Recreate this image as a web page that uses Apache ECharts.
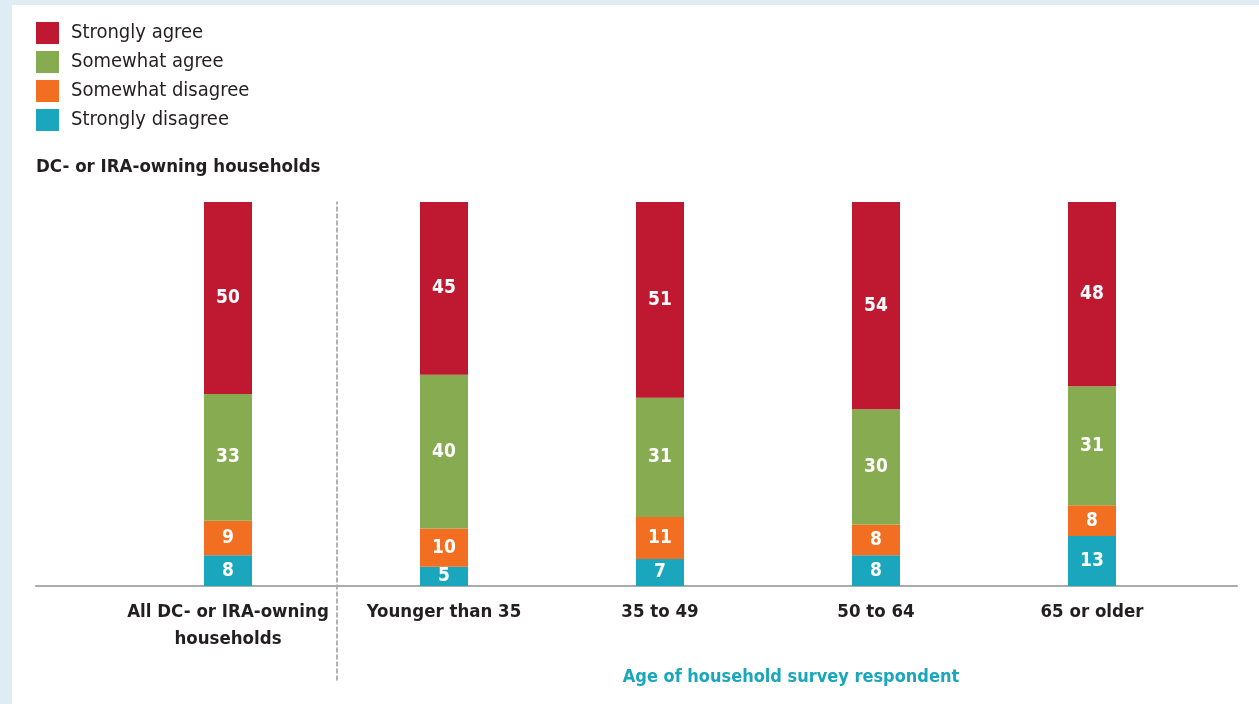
<!DOCTYPE html>
<html><head><meta charset="utf-8">
<script src="https://cdn.jsdelivr.net/npm/echarts@6/dist/echarts.min.js"></script>
<style>
html,body{margin:0;padding:0;background:#deedf3;width:1259px;height:704px;overflow:hidden}
#c{position:absolute;left:12px;top:5px;width:1247px;height:699px;background:#fff}
</style></head><body><div id="c"></div>
<script>
const categories = ['All DC- or IRA-owning\nhouseholds', 'Younger than 35', '35 to 49', '50 to 64', '65 or older'];
const seriesNames = ['Strongly agree', 'Somewhat agree', 'Somewhat disagree', 'Strongly disagree'];
const stronglyDisagree = [8, 5, 7, 8, 13];
const somewhatDisagree = [9, 10, 11, 8, 8];
const somewhatAgree = [33, 40, 31, 30, 31];
const stronglyAgree = [50, 45, 51, 54, 48];
const colors = {'Strongly agree':'#be1931','Somewhat agree':'#87ab51','Somewhat disagree':'#f26f22','Strongly disagree':'#1aa6bd'};
const subtitle = 'DC- or IRA-owning households';
const axisTitle = 'Age of household survey respondent';

const FONT = '"DejaVu Sans Condensed", "Liberation Sans", sans-serif';
const DARK = '#231f20';
const chart = echarts.init(document.getElementById('c'));
const valuesByName = {
  'Strongly disagree': stronglyDisagree,
  'Somewhat disagree': somewhatDisagree,
  'Somewhat agree': somewhatAgree,
  'Strongly agree': stronglyAgree
};
const stackOrder = ['Strongly disagree', 'Somewhat disagree', 'Somewhat agree', 'Strongly agree'];
const series = stackOrder.map(n => ({
  name: n, type: 'bar', stack: 'a', xAxisIndex: 0, yAxisIndex: 0,
  barWidth: 48, data: valuesByName[n],
  itemStyle: {color: colors[n]},
  label: {show: true, position: 'inside', color: '#fff', fontFamily: FONT, fontWeight: 'bold', fontSize: 19},
  emphasis: {disabled: true}
}));
chart.setOption({
  animation: false,
  textStyle: {fontFamily: FONT},
  title: [
    {text: subtitle, left: 19, top: 148, textStyle: {fontFamily: FONT, fontWeight: 'bold', fontSize: 18.5, color: DARK}},
    {text: axisTitle, left: 774, top: 658, textAlign: 'center', textStyle: {fontFamily: FONT, fontWeight: 'bold', fontSize: 18, color: '#1aa6bd'}}
  ],
  legend: {
    data: seriesNames, orient: 'vertical', left: 19, top: 12,
    icon: 'rect', itemWidth: 23, itemHeight: 22, itemGap: 7,
    selectedMode: false,
    textStyle: {fontFamily: FONT, fontSize: 20, color: DARK, padding: [0, 0, 0, 7]}
  },
  grid: [
    {left: 108, top: 197, width: 1080, height: 384},
    {left: 24, top: 197, width: 1201, height: 384},
    {left: 325, top: 197, width: 10, height: 478}
  ],
  xAxis: [
    {gridIndex: 0, type: 'category', data: categories, axisLine: {show: false}, axisTick: {show: false},
     axisLabel: {color: DARK, fontFamily: FONT, fontWeight: 'bold', fontSize: 18.5, lineHeight: 27, margin: 13, interval: 0}},
    {gridIndex: 1, type: 'category', data: [''], axisLine: {show: true, lineStyle: {color: '#aaaaaa', width: 2}}, axisTick: {show: false}, axisLabel: {show: false}},
    {gridIndex: 2, type: 'value', min: 0, max: 1, show: false}
  ],
  yAxis: [
    {gridIndex: 0, type: 'value', min: 0, max: 100, show: false},
    {gridIndex: 1, type: 'value', min: 0, max: 100, show: false},
    {gridIndex: 2, type: 'value', min: 0, max: 100, show: true, splitLine: {show: false}, axisTick: {show: false}, axisLabel: {show: false},
     axisLine: {show: true, lineStyle: {color: '#9a9a9a', type: [4, 3], width: 1.5}}}
  ],
  series: series
});
</script></body></html>
